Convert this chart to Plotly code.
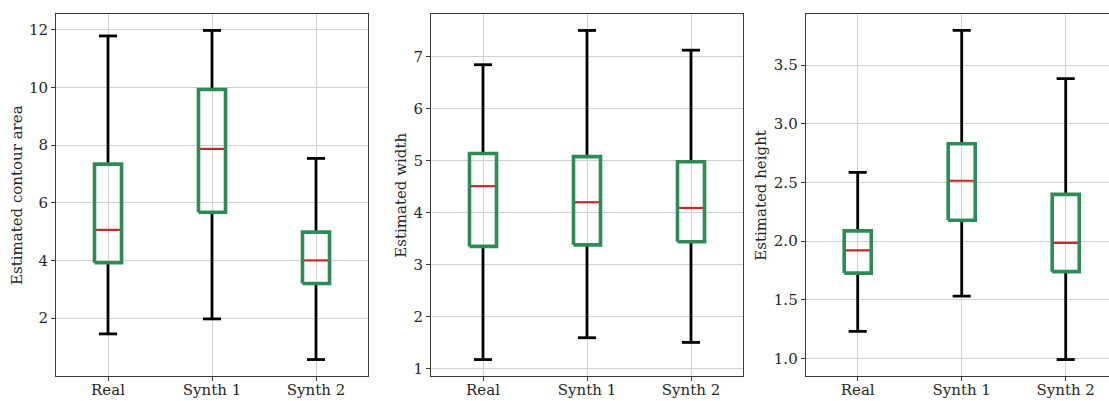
import plotly.graph_objects as go

W, H = 1109, 401

categories = ["Real", "Synth 1", "Synth 2"]

# Panel 1: Estimated contour area
area_lo = [1.45, 1.97, 0.56]
area_q1 = [3.92, 5.67, 3.20]
area_med = [5.06, 7.87, 4.00]
area_q3 = [7.34, 9.93, 4.98]
area_hi = [11.79, 11.98, 7.54]
area_ticks = [2, 4, 6, 8, 10, 12]

# Panel 2: Estimated width
width_lo = [1.17, 1.59, 1.50]
width_q1 = [3.35, 3.38, 3.44]
width_med = [4.51, 4.20, 4.09]
width_q3 = [5.14, 5.08, 4.98]
width_hi = [6.85, 7.51, 7.13]
width_ticks = [1, 2, 3, 4, 5, 6, 7]

# Panel 3: Estimated height
height_lo = [1.23, 1.53, 0.99]
height_q1 = [1.727, 2.177, 1.739]
height_med = [1.92, 2.514, 1.985]
height_q3 = [2.087, 2.829, 2.398]
height_hi = [2.585, 3.795, 3.384]
height_ticks = [1.0, 1.5, 2.0, 2.5, 3.0, 3.5]

panels = [
    ("Estimated contour area", area_lo, area_q1, area_med, area_q3, area_hi, area_ticks, "d"),
    ("Estimated width", width_lo, width_q1, width_med, width_q3, width_hi, width_ticks, "d"),
    ("Estimated height", height_lo, height_q1, height_med, height_q3, height_hi, height_ticks, ".1f"),
]

GREEN = "#2e8b57"
RED = "#c0282d"
BLACK = "#000000"
FRAME = "#3a3a3a"
GRID = "#d0d0d0"
FONT = "DejaVu Serif"
TXT = "#262626"
FS = 15

BOX_HW = 0.13
CAP_HW = 0.087

# pixel layout
px_unit = 104.0
left_px = [56.0, 431.0, 805.7]
top_px, bot_px = 14.0, 376.0
title_x_px = [17.0, 400.7, 760.7]

fig = go.Figure()
positions = [1, 2, 3]

for i, (title, lo, q1, med, q3, hi, ticks, fmt) in enumerate(panels):
    xa = "x" if i == 0 else f"x{i+1}"
    ya = "y" if i == 0 else f"y{i+1}"
    wx, wy, cx, cy, mx, my, bx, by = [], [], [], [], [], [], [], []
    for p, a, b, m, c, d in zip(positions, lo, q1, med, q3, hi):
        wx += [p, p, None, p, p, None]
        wy += [c, d, None, b, a, None]
        cx += [p - CAP_HW, p + CAP_HW, None, p - CAP_HW, p + CAP_HW, None]
        cy += [d, d, None, a, a, None]
        mx += [p - BOX_HW, p + BOX_HW, None]
        my += [m, m, None]
        bx += [p - BOX_HW, p + BOX_HW, p + BOX_HW, p - BOX_HW, p - BOX_HW, None]
        by += [b, b, c, c, b, None]
    common = dict(mode="lines", xaxis=xa, yaxis=ya, showlegend=False, hoverinfo="skip")
    fig.add_trace(go.Scatter(x=wx, y=wy, line=dict(color=BLACK, width=2.8), **common))
    fig.add_trace(go.Scatter(x=cx, y=cy, line=dict(color=BLACK, width=2.8), **common))
    fig.add_trace(go.Scatter(x=mx, y=my, line=dict(color=RED, width=2.2), **common))
    fig.add_trace(go.Scatter(x=bx, y=by, line=dict(color=GREEN, width=3.6), **common))

    ymin = min(lo)
    ymax = max(hi)
    span = ymax - ymin
    yr = [ymin - 0.05 * span, ymax + 0.05 * span]

    x0 = left_px[i] / W
    right_px = left_px[i] + 3 * px_unit
    if right_px > W:
        x1 = 1.0
        xr = [0.5, 0.5 + (W - left_px[i]) / px_unit]
    else:
        x1 = right_px / W
        xr = [0.5, 3.5]

    xkey = "xaxis" if i == 0 else f"xaxis{i+1}"
    ykey = "yaxis" if i == 0 else f"yaxis{i+1}"
    fig.update_layout({
        xkey: dict(
            domain=[x0, x1], range=xr, anchor=ya,
            tickmode="array", tickvals=positions, ticktext=categories,
            showgrid=True, gridcolor=GRID, gridwidth=1,
            showline=True, linecolor=FRAME, linewidth=1, mirror=True,
            ticks="outside", ticklen=4, tickcolor=FRAME, tickwidth=1,
            ticklabelstandoff=-4,
            zeroline=False, fixedrange=True,
            tickfont=dict(family=FONT, size=FS, color=TXT),
        ),
        ykey: dict(
            domain=[1 - bot_px / H, 1 - top_px / H], range=yr, anchor=xa,
            tickmode="array", tickvals=ticks,
            ticktext=[format(t, fmt) if fmt != "d" else str(int(t)) for t in ticks],
            showgrid=True, gridcolor=GRID, gridwidth=1,
            showline=True, linecolor=FRAME, linewidth=1, mirror=(right_px <= W),
            ticks="outside", ticklen=4, tickcolor=FRAME, tickwidth=1,
            zeroline=False, fixedrange=True,
            tickfont=dict(family=FONT, size=FS, color=TXT),
        ),
    })
    fig.add_annotation(
        text=title, x=title_x_px[i] / W, y=1 - (top_px + bot_px) / 2 / H,
        xref="paper", yref="paper", textangle=-90, showarrow=False,
        xanchor="center", yanchor="middle",
        font=dict(family=FONT, size=FS, color=TXT),
    )

fig.update_layout(
    width=W, height=H,
    margin=dict(l=0, r=0, t=0, b=0, autoexpand=False),
    paper_bgcolor="white", plot_bgcolor="white",
    showlegend=False,
)

fig.write_html(
    "out.html",
    config={"displayModeBar": False},
    post_script="document.body.style.margin='0';document.body.style.padding='0';document.body.style.overflow='hidden';",
)
